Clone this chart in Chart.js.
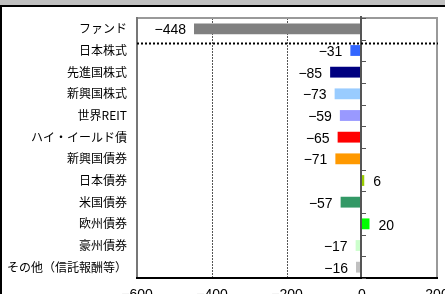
<!DOCTYPE html>
<html>
<head>
<meta charset="utf-8">
<script src="https://cdn.jsdelivr.net/npm/chart.js@4.4.1/dist/chart.umd.min.js"></script>
<style>
  html, body { margin: 0; padding: 0; background: #fff; }
  #wrap { position: relative; width: 445px; height: 294px; overflow: hidden; }
</style>
</head>
<body>
<div id="wrap"><canvas id="c" width="445" height="294"></canvas></div>
<script>
const categories = ['ファンド', '日本株式', '先進国株式', '新興国株式', '世界REIT', 'ハイ・イールド債',
    '新興国債券', '日本債券', '米国債券', '欧州債券', '豪州債券', 'その他（信託報酬等）'];
const values = [-448, -31, -85, -73, -59, -65, -71, 6, -57, 20, -17, -16];
const barColors = ['#808080', '#3366FF', '#000080', '#99CCFF', '#9999FF', '#FF0000',
    '#FF9900', '#99CC00', '#339966', '#00FF00', '#CCFFCC', '#C0C0C0'];
const xTicks = [-600, -400, -200, 0, 200];

const minus = v => String(v).replace('-', '−');

// frame, grid, zero line, separator and value labels
const decor = {
    id: 'decor',
    beforeDraw(chart) {
        const ctx = chart.ctx;
        ctx.save();
        ctx.fillStyle = '#C0C0C0';
        ctx.fillRect(0, 0, 445, 5);
        ctx.fillStyle = '#000';
        ctx.fillRect(0, 5, 445, 2);
        ctx.fillRect(0, 5, 2, 289);
        ctx.restore();
    },
    beforeDatasetsDraw(chart) {
        const ctx = chart.ctx, a = chart.chartArea, x = chart.scales.x;
        ctx.save();
        ctx.strokeStyle = '#555';
        ctx.lineWidth = 1;
        ctx.setLineDash([2, 1]);
        [-400, -200].forEach(v => {
            const px = Math.round(x.getPixelForValue(v)) + 0.5;
            ctx.beginPath();
            ctx.moveTo(px, a.top);
            ctx.lineTo(px, a.bottom);
            ctx.stroke();
        });
        ctx.restore();
    },
    afterDatasetsDraw(chart) {
        const ctx = chart.ctx, a = chart.chartArea, x = chart.scales.x, y = chart.scales.y;
        ctx.save();
        // plot border
        ctx.fillStyle = '#999';
        ctx.fillRect(a.left - 1, a.top - 1, a.right - a.left + 2, 2);
        ctx.fillRect(a.right - 1, a.top - 1, 2, a.bottom - a.top + 1);
        ctx.fillStyle = '#777';
        ctx.fillRect(a.left - 1, a.top - 1, 2, a.bottom - a.top + 1);
        ctx.fillStyle = '#000';
        ctx.fillRect(a.left - 1, a.bottom - 1, a.right - a.left + 2, 2);

        // zero line with category ticks
        const zx = Math.round(x.getPixelForValue(0));
        ctx.fillStyle = '#555';
        ctx.fillRect(zx - 2, a.top - 2, 2, a.bottom - a.top + 1);
        const step = y.getPixelForValue(1) - y.getPixelForValue(0);
        for (let i = 0; i <= categories.length; i++) {
            const ty = Math.round(y.getPixelForValue(0) + (i - 0.5) * step);
            ctx.fillRect(zx, ty, 4, 1);
        }

        // dotted separator below the fund row
        const sy = Math.round(y.getPixelForValue(0) + 0.65 * step) + 0.5;
        ctx.strokeStyle = '#000';
        ctx.lineWidth = 2;
        ctx.setLineDash([2, 2]);
        ctx.beginPath();
        ctx.moveTo(a.left, sy);
        ctx.lineTo(a.right + 1, sy);
        ctx.stroke();
        ctx.setLineDash([]);

        // value labels
        ctx.font = '14px "Liberation Sans", Arial, sans-serif';
        ctx.fillStyle = '#000';
        ctx.textBaseline = 'middle';
        chart.getDatasetMeta(0).data.forEach((bar, i) => {
            const v = values[i];
            if (v < 0) {
                ctx.textAlign = 'right';
                ctx.fillText(minus(v), bar.x - 8, bar.y + 1.5);
            } else {
                ctx.textAlign = 'left';
                ctx.fillText(minus(v), bar.x + 9, bar.y + 2);
            }
        });
        ctx.restore();
    }
};

new Chart(document.getElementById('c'), {
    type: 'bar',
    data: {
        labels: categories,
        datasets: [{
            data: values,
            backgroundColor: barColors,
            borderWidth: 0,
            barPercentage: 0.5,
            categoryPercentage: 1
        }]
    },
    options: {
        indexAxis: 'y',
        responsive: false,
        animation: false,
        events: [],
        layout: { padding: { top: 18, right: 8, left: 0, bottom: 0 } },
        plugins: { legend: { display: false }, tooltip: { enabled: false } },
        scales: {
            x: {
                min: -600,
                max: 200,
                afterFit(s) { s.height = 16; s.paddingLeft = 0; s.paddingRight = 0; },
                afterBuildTicks(s) { s.ticks = xTicks.map(v => ({ value: v })); },
                grid: { display: false, drawTicks: false },
                border: { display: false },
                ticks: {
                    color: '#000',
                    padding: 9,
                    maxRotation: 0,
                    font: { family: '"Liberation Sans", Arial, sans-serif', size: 14 },
                    callback: v => minus(v)
                }
            },
            y: {
                afterFit(s) { s.width = 137; s.paddingTop = 0; s.paddingBottom = 0; },
                grid: { display: false, drawTicks: false },
                border: { display: false },
                ticks: {
                    color: '#000',
                    padding: 10,
                    autoSkip: false,
                    font: { family: '"Noto Sans CJK JP", sans-serif', size: 12 }
                }
            }
        }
    },
    plugins: [decor]
});
</script>
</body>
</html>
